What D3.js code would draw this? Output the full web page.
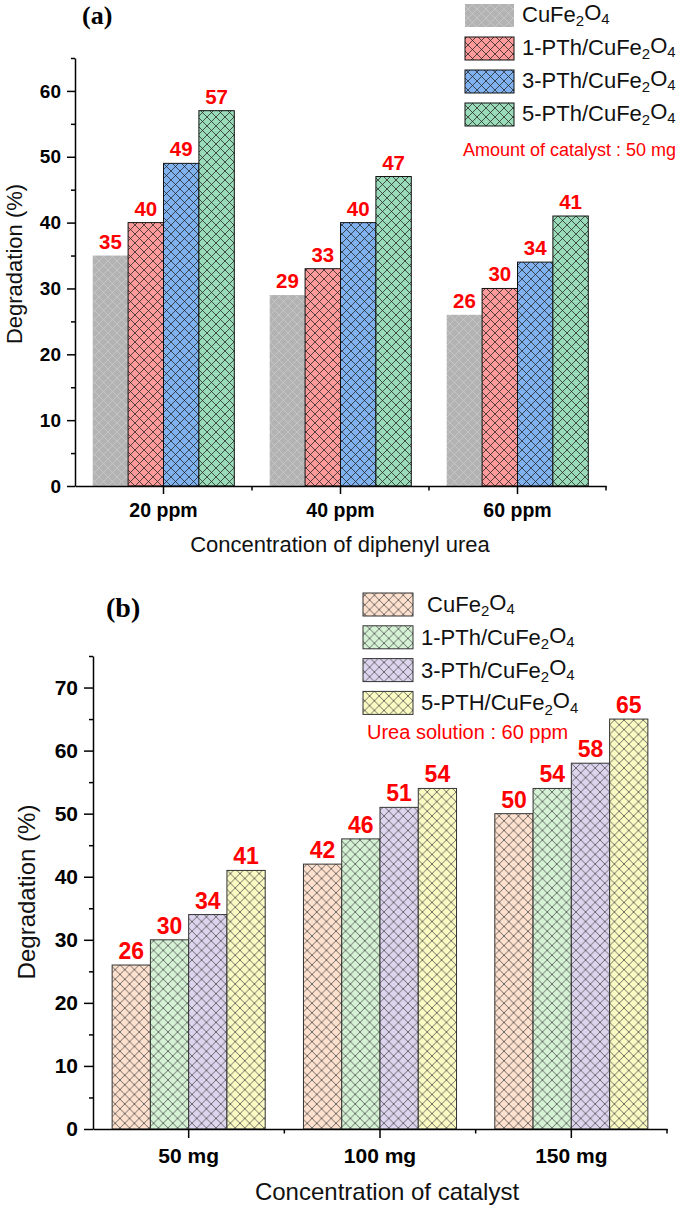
<!DOCTYPE html>
<html><head><meta charset="utf-8">
<script src="https://cdn.jsdelivr.net/npm/d3@7"></script>
<style>
html,body{margin:0;padding:0;background:#fff;}
svg{display:block;font-family:"Liberation Sans",Arial,sans-serif;}
</style></head>
<body>
<svg id="chart" width="685" height="1212"></svg>
<script>
// ---------- Data (a) ----------
const catsA = ["20 ppm", "40 ppm", "60 ppm"];
const seriesA = ["CuFe2O4", "1-PTh/CuFe2O4", "3-PTh/CuFe2O4", "5-PTh/CuFe2O4"];
const cuFe2O4_A = [35, 29, 26];
const pth1_A = [40, 33, 30];
const pth3_A = [49, 40, 34];
const pth5_A = [57, 47, 41];
const yTicksA = [0, 10, 20, 30, 40, 50, 60];
// ---------- Data (b) ----------
const catsB = ["50 mg", "100 mg", "150 mg"];
const seriesB = [" CuFe2O4", "1-PTh/CuFe2O4", "3-PTh/CuFe2O4", "5-PTH/CuFe2O4"];
const cuFe2O4_B = [26, 42, 50];
const pth1_B = [30, 46, 54];
const pth3_B = [34, 51, 58];
const pth5_B = [41, 54, 65];
const yTicksB = [0, 10, 20, 30, 40, 50, 60, 70];

const SANS = '"Liberation Sans",Arial,sans-serif';
const SERIF = '"Liberation Serif","Times New Roman",serif';
const svg = d3.select("#chart");
const defs = svg.append("defs");

function makePattern(id, fill, line, size, lw) {
  const p = defs.append("pattern").attr("id", id)
    .attr("patternUnits", "userSpaceOnUse").attr("width", size).attr("height", size);
  p.append("rect").attr("width", size).attr("height", size).attr("fill", fill);
  p.append("path")
    .attr("d", `M0,0L${size},${size}M${size},0L0,${size}`)
    .attr("stroke", line).attr("stroke-width", lw).attr("fill", "none");
  return `url(#${id})`;
}

function legendLabel(sel, label) {
  const m = label.match(/^(.*Fe)2O4$/);
  sel.append("tspan").text(m[1]);
  sel.append("tspan").text("2").attr("font-size", "0.68em").attr("dy", "0.3em");
  sel.append("tspan").text("O").attr("dy", "-0.3em");
  sel.append("tspan").text("4").attr("font-size", "0.68em").attr("dy", "0.3em");
}

function drawChart(cfg) {
  const g = svg.append("g");
  const x = d3.scaleBand().domain(cfg.cats).range([cfg.left, cfg.right]).padding(0);
  const xi = d3.scaleBand().domain(cfg.series).range([0, x.bandwidth()]).paddingInner(0).paddingOuter(0.5);
  const y = d3.scaleLinear().domain(cfg.yDomain).range([cfg.bottom, cfg.top]);

  const rows = [];
  cfg.values.forEach((vals, si) => vals.forEach((v, ci) => rows.push({s: cfg.series[si], si, c: cfg.cats[ci], v})));

  g.selectAll("rect.bar").data(rows).enter().append("rect")
    .attr("x", d => x(d.c) + xi(d.s))
    .attr("y", d => y(d.v))
    .attr("width", xi.bandwidth())
    .attr("height", d => y(0) - y(d.v))
    .attr("fill", d => cfg.fills[d.si])
    .attr("stroke", d => cfg.strokes[d.si])
    .attr("stroke-width", 1);

  g.selectAll("text.val").data(rows).enter().append("text")
    .attr("x", d => x(d.c) + xi(d.s) + xi.bandwidth() / 2)
    .attr("y", d => y(d.v) - cfg.valGap)
    .attr("text-anchor", "middle")
    .style("font-family", SANS)
    .attr("font-weight", "bold")
    .attr("font-size", cfg.valSize)
    .attr("fill", "#ff0000")
    .text(d => d.v);

  const minor = d3.range(cfg.yDomain[0] + 5, cfg.yDomain[1] + 0.1, 10);
  const yMinor = g.append("g").attr("transform", `translate(${cfg.left},0)`)
    .call(d3.axisLeft(y).tickValues(minor).tickSize(4).tickSizeOuter(0).tickFormat(""));
  yMinor.select(".domain").remove();
  const yAx = g.append("g").attr("transform", `translate(${cfg.left},0)`)
    .call(d3.axisLeft(y).tickValues(cfg.yTicks).tickSize(cfg.majorTick).tickSizeOuter(0).tickPadding(6));
  yAx.selectAll("text").attr("font-size", cfg.yTickSize).attr("font-weight", "bold")
    .style("font-family", SANS).attr("fill", "#000");
  [yAx, yMinor].forEach(a => a.selectAll("line,path").attr("stroke", "#000").attr("stroke-width", 1.5));

  const xAx = g.append("g").attr("transform", `translate(0,${cfg.bottom})`)
    .call(d3.axisBottom(x).tickSize(cfg.majorTick).tickSizeOuter(0));
  xAx.selectAll("text").attr("font-size", cfg.xTickSize).attr("font-weight", "bold")
    .style("font-family", SANS).attr("fill", "#000")
    .attr("y", cfg.xTickY).attr("dy", 0);
  xAx.selectAll("line,path").attr("stroke", "#000").attr("stroke-width", 1.5);
  const edges = cfg.cats.slice(1).map(c => x(c)).concat([x(cfg.cats[cfg.cats.length - 1]) + x.bandwidth()]);
  g.selectAll("line.xminor").data(edges).enter().append("line")
    .attr("x1", d => d).attr("x2", d => d)
    .attr("y1", cfg.bottom).attr("y2", cfg.bottom + 4.5)
    .attr("stroke", "#000").attr("stroke-width", 1.5);

  g.append("text").attr("transform", `translate(${cfg.yTitleX},${cfg.yTitleY}) rotate(-90)`)
    .attr("text-anchor", "middle").attr("font-size", cfg.titleSize).attr("fill", "#111")
    .style("font-family", SANS).text("Degradation (%)");
  g.append("text").attr("x", cfg.xTitleX).attr("y", cfg.xTitleY)
    .attr("text-anchor", "middle").attr("font-size", cfg.titleSize).attr("fill", "#111")
    .style("font-family", SANS).text(cfg.xTitle);

  g.append("text").attr("x", cfg.panelX).attr("y", cfg.panelY)
    .style("font-family", SERIF)
    .attr("font-weight", "bold").attr("font-size", cfg.panelSize).text(cfg.panel);

  const lg = g.append("g");
  cfg.series.forEach((s, i) => {
    const top = cfg.legTop + i * cfg.legStep;
    lg.append("rect").attr("x", cfg.legX).attr("y", top).attr("width", cfg.legW).attr("height", cfg.legH)
      .attr("fill", cfg.fills[i]).attr("stroke", cfg.strokes[i]).attr("stroke-width", 1);
    const t = lg.append("text").attr("x", cfg.legX + cfg.legW + 8).attr("y", top + cfg.legBase)
      .attr("font-size", cfg.legSize).attr("fill", "#111").style("font-family", SANS)
      .style("white-space", "pre");
    legendLabel(t, s);
  });
  g.append("text").attr("x", cfg.noteX).attr("y", cfg.noteY).attr("font-size", cfg.noteSize)
    .style("font-family", SANS).attr("fill", "#ff0000").text(cfg.note);
}

const fillsA = [
  makePattern("pa0", "#b3b3b3", "#cdcdcd", 9, 0.7),
  makePattern("pa1", "#ff9a9a", "#222", 9, 0.75),
  makePattern("pa2", "#80b2f0", "#222", 9, 0.75),
  makePattern("pa3", "#9adbb9", "#222", 9, 0.75)
];
const fillsB = [
  makePattern("pb0", "#fde0cd", "#444", 9.6, 0.75),
  makePattern("pb1", "#d5f2d5", "#444", 9.6, 0.75),
  makePattern("pb2", "#ddd4ee", "#444", 9.6, 0.75),
  makePattern("pb3", "#fafac3", "#444", 9.6, 0.75)
];

drawChart({
  cats: catsA, series: seriesA, values: [cuFe2O4_A, pth1_A, pth3_A, pth5_A], yTicks: yTicksA,
  yDomain: [0, 65], left: 75, right: 606, top: 58, bottom: 486,
  fills: fillsA, strokes: ["none", "#111", "#111", "#111"],
  valSize: 20.5, valGap: 7, yTickSize: 19, xTickSize: 19.5, xTickY: 31, majorTick: 8,
  titleSize: 22, yTitleX: 22, yTitleY: 264, xTitleX: 340, xTitleY: 552,
  xTitle: "Concentration of diphenyl urea",
  panel: "(a)", panelX: 82, panelY: 24, panelSize: 26,
  legX: 465, legTop: 4, legStep: 33, legW: 49, legH: 23, legBase: 18, legSize: 22,
  note: "Amount of catalyst : 50 mg", noteX: 463, noteY: 156, noteSize: 18
});

drawChart({
  cats: catsB, series: seriesB, values: [cuFe2O4_B, pth1_B, pth3_B, pth5_B], yTicks: yTicksB,
  yDomain: [0, 75], left: 93, right: 667, top: 656, bottom: 1129,
  fills: fillsB, strokes: ["#333", "#333", "#333", "#333"],
  valSize: 23, valGap: 6, yTickSize: 21, xTickSize: 21, xTickY: 34, majorTick: 9,
  titleSize: 24, yTitleX: 35, yTitleY: 892, xTitleX: 387, xTitleY: 1200,
  xTitle: "Concentration of catalyst",
  panel: "(b)", panelX: 106, panelY: 617, panelSize: 28,
  legX: 363, legTop: 593, legStep: 32.8, legW: 50, legH: 23, legBase: 19, legSize: 22,
  note: "Urea solution : 60 ppm", noteX: 367, noteY: 739, noteSize: 20
});
</script>
</body></html>
